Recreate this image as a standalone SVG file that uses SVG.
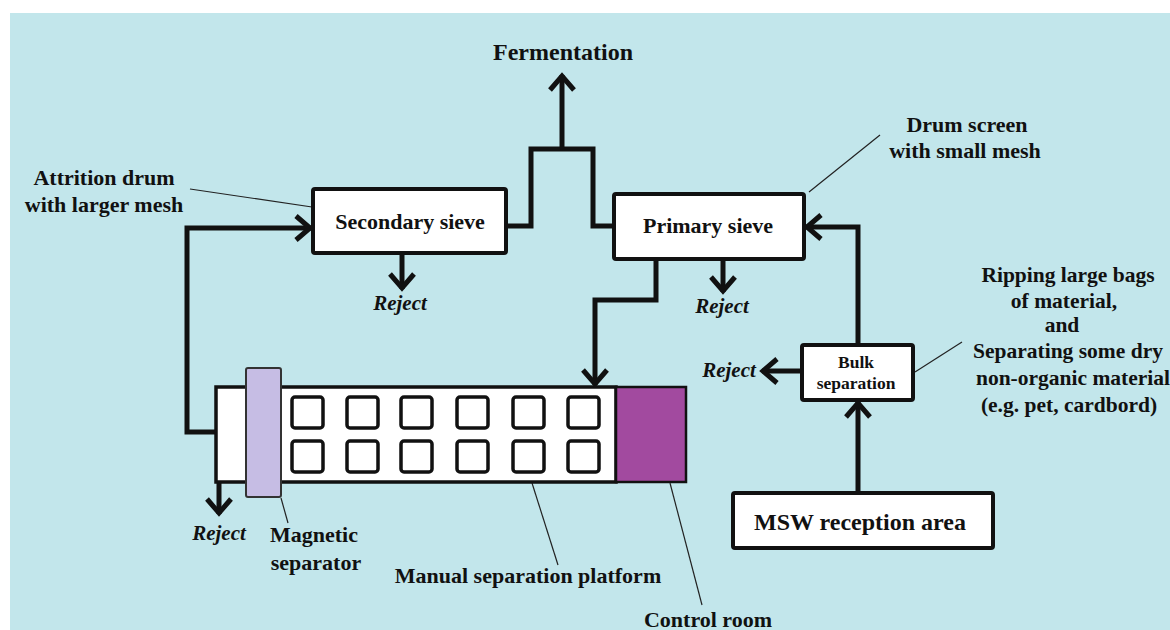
<svg xmlns="http://www.w3.org/2000/svg" width="1170" height="630" viewBox="0 0 1170 630">
<style>
text{font-family:"Liberation Serif","Times New Roman",serif;font-weight:bold;fill:#111;text-anchor:middle}
.box{fill:#fff;stroke:#111;stroke-width:4}
.sq{fill:#fff;stroke:#111;stroke-width:3.5}
.flow{fill:none;stroke:#111;stroke-width:5;stroke-linejoin:miter}
.arr{marker-end:url(#chev)}
.lead{fill:none;stroke:#222;stroke-width:1.2}
.rej{font-style:italic;font-size:21px}
</style>
<defs>
<marker id="chev" viewBox="-20 -20 40 40" refX="0" refY="0" markerWidth="40" markerHeight="40" markerUnits="userSpaceOnUse" orient="auto">
<path d="M-15,-12 L-1,0 L-15,12" fill="none" stroke="#111" stroke-width="5"/>
</marker>
</defs>
<rect x="10" y="13" width="1160" height="617" fill="#c2e6eb"/>
<g id="connectors">
<path class="flow arr" d="M217,432 H187 V228 H311"/>
<path class="flow" d="M506,226 H531 V149 H593 V226 H614"/>
<path class="flow arr" d="M562,149 V75"/>
<path class="flow arr" d="M402,253 V289"/>
<path class="flow arr" d="M723,259 V292"/>
<path class="flow arr" d="M656,259 V300 H595 V385"/>
<path class="flow arr" d="M858,345 V227 H806"/>
<path class="flow arr" d="M858,493 V402"/>
<path class="flow arr" d="M802,371 H762"/>
<path class="flow arr" d="M219,482 V514"/>
<path class="lead" d="M190,189 L312,207"/>
<path class="lead" d="M809,192 L880,135"/>
<path class="lead" d="M915,372 L962,342"/>
<path class="lead" d="M281,498 L288,523"/>
<path class="lead" d="M532,483 L558,565"/>
<path class="lead" d="M670,483 L702,605"/>
</g>
<g id="fermentation"><text x="563" y="60" font-size="24">Fermentation</text></g>
<g id="secondary-sieve">
<rect class="box" x="313" y="189" width="193" height="64" rx="2"/>
<text x="410" y="229" font-size="22">Secondary sieve</text>
</g>
<g id="primary-sieve">
<rect class="box" x="614" y="194" width="190" height="65" rx="2"/>
<text x="708" y="233" font-size="22">Primary sieve</text>
</g>
<g id="bulk-separation">
<rect class="box" x="802" y="345" width="111" height="55" rx="2"/>
<text x="856" y="368" font-size="17.5">Bulk</text>
<text x="856" y="389" font-size="17.5">separation</text>
</g>
<g id="msw-reception">
<rect class="box" x="733" y="493" width="260" height="55" rx="2"/>
<text x="860" y="530" font-size="24">MSW reception area</text>
</g>
<g id="manual-platform">
<rect x="216" y="387" width="400" height="95" fill="#fff" stroke="#111" stroke-width="3.5"/>
<rect class="sq" x="292" y="397" width="31" height="31" rx="3"/>
<rect class="sq" x="347" y="397" width="31" height="31" rx="3"/>
<rect class="sq" x="401" y="397" width="31" height="31" rx="3"/>
<rect class="sq" x="457" y="397" width="31" height="31" rx="3"/>
<rect class="sq" x="513" y="397" width="31" height="31" rx="3"/>
<rect class="sq" x="568" y="397" width="31" height="31" rx="3"/>
<rect class="sq" x="292" y="441" width="31" height="31" rx="3"/>
<rect class="sq" x="347" y="441" width="31" height="31" rx="3"/>
<rect class="sq" x="401" y="441" width="31" height="31" rx="3"/>
<rect class="sq" x="457" y="441" width="31" height="31" rx="3"/>
<rect class="sq" x="513" y="441" width="31" height="31" rx="3"/>
<rect class="sq" x="568" y="441" width="31" height="31" rx="3"/>
</g>
<g id="control-room">
<rect x="616" y="387" width="70" height="95" fill="#a24a9f" stroke="#111" stroke-width="2.5"/>
</g>
<g id="magnetic-separator">
<rect x="246" y="368" width="35" height="129" rx="2" fill="#c6bde4" stroke="#333" stroke-width="2"/>
</g>
<g id="labels">
<text x="104" y="185" font-size="22">Attrition drum</text>
<text x="104" y="212" font-size="22">with larger mesh</text>
<text x="967" y="132" font-size="22">Drum screen</text>
<text x="965" y="158" font-size="22">with small mesh</text>
<text x="1068" y="282" font-size="21.5">Ripping large bags</text>
<text x="1064" y="308" font-size="21.5">of material,</text>
<text x="1062" y="332" font-size="21.5">and</text>
<text x="1068" y="358" font-size="21.5">Separating some dry</text>
<text x="1073" y="385" font-size="21.5">non-organic material</text>
<text x="1069" y="412" font-size="21.5">(e.g. pet, cardbord)</text>
<text x="314" y="542" font-size="22">Magnetic</text>
<text x="316" y="570" font-size="22">separator</text>
<text x="528" y="583" font-size="22">Manual separation platform</text>
<text x="708" y="627" font-size="22">Control room</text>
</g>
<g id="rejects">
<text class="rej" x="400" y="310">Reject</text>
<text class="rej" x="722" y="313">Reject</text>
<text class="rej" x="729" y="377">Reject</text>
<text class="rej" x="219" y="540">Reject</text>
</g>
</svg>
